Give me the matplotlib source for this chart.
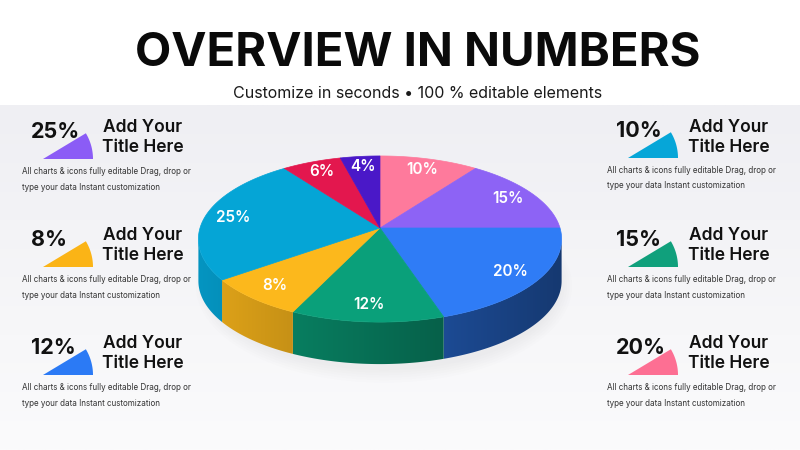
import numpy as np
import matplotlib
matplotlib.use("Agg")
import matplotlib.pyplot as plt
from matplotlib.patches import Polygon, Rectangle, Ellipse
from matplotlib.colors import to_rgb

# ---------------- data ----------------
pie_labels = ["10%", "15%", "20%", "12%", "8%", "25%", "6%", "4%"]
pie_values = [10, 15, 20, 12, 8, 25, 6, 4]
pie_colors = ["#fe7a9c", "#8d63f5", "#2f7cf6", "#0aa07a",
              "#fcb81c", "#05a5d6", "#e3174e", "#4a18c8"]

card_values = ["25%", "8%", "12%", "10%", "15%", "20%"]
card_colors = ["#8b5cf6", "#fbb416", "#2b7af5", "#06a6d8", "#10a07c", "#fd6f93"]
card_title = ["Add Your", "Title Here"]
card_desc = ["All charts & icons fully editable Drag, drop or",
             "type your data Instant customization"]

title = "OVERVIEW IN NUMBERS"
subtitle = "Customize in seconds \u2022 100 % editable elements"

FONT = "Inter"

# ---------------- figure ----------------
fig = plt.figure(figsize=(8, 4.5), dpi=100)
ax = fig.add_axes([0, 0, 1, 1])
ax.set_xlim(0, 800)
ax.set_ylim(450, 0)
ax.axis("off")

# background: white header, light grey panel fading downward
grad = np.linspace(0, 1, 200)[:, None]
c0 = np.array(to_rgb("#efeff3"))
c1 = np.array(to_rgb("#fbfbfc"))
img = c0[None, None, :] * (1 - grad[..., None]) + c1[None, None, :] * grad[..., None]
img = np.repeat(img, 2, axis=1)
ax.imshow(img, extent=[0, 800, 450, 105], aspect="auto", zorder=0)
ax.add_patch(Rectangle((0, 0), 800, 105, facecolor="white", edgecolor="none", zorder=1))

ax.text(418, 53, title, ha="center", va="center", fontsize=34, fontweight="bold",
        family=FONT, color="#0a0a0a", zorder=5)
ax.text(418, 93, subtitle, ha="center", va="center", fontsize=11.5,
        family=FONT, color="#1a1a1a", zorder=5)

# ---------------- 3D pie ----------------
CX, CY = 380.0, 228.0
A, B, C = 180.0, 81.6, 0.1327
D = 42.0


def proj(u, v, dy=0.0):
    w = 1.0 - C * v
    return CX + A * u / w, CY + B * v / w + dy


# very soft shadow under the pie
for k in range(6):
    ax.add_patch(Ellipse((CX + 4, CY + 58), 2 * A + 16 - k * 5, 2 * B + 30 - k * 5,
                         facecolor="#c4c4cc", edgecolor="none", alpha=0.035, zorder=2))

cum = np.concatenate([[0], np.cumsum(pie_values)]) / np.sum(pie_values) * 2 * np.pi
th_r = np.arccos(-C)            # right silhouette angle
th_l = 2 * np.pi - th_r         # left silhouette angle

# side walls (front part only), shaded horizontally
xs = np.linspace(CX - A - 10, CX + A + 10, 300)
fshade = np.clip(0.68 - 0.22 * (xs - CX) / A, 0, 1)
for i, col in enumerate(pie_colors):
    a0, a1 = max(cum[i], th_r), min(cum[i + 1], th_l)
    if a1 <= a0:
        continue
    th = np.linspace(a0, a1, 120)
    top = [proj(np.sin(t), -np.cos(t)) for t in th]
    bot = [(x, y + D) for (x, y) in top[::-1]]
    poly = Polygon(top + bot, closed=True, facecolor="none", edgecolor="none", zorder=3)
    ax.add_patch(poly)
    rgb = np.array(to_rgb(col))
    simg = (rgb[None, None, :] * fshade[None, :, None])
    simg = np.repeat(simg, 2, axis=0)
    im = ax.imshow(simg, extent=[xs[0], xs[-1], CY + B + D + 40, CY - B], aspect="auto",
                   zorder=3, interpolation="bilinear")
    im.set_clip_path(poly)

# top faces
for i, col in enumerate(pie_colors):
    th = np.linspace(cum[i], cum[i + 1], 120)
    pts = [proj(0, 0)] + [proj(np.sin(t), -np.cos(t)) for t in th]
    ax.add_patch(Polygon(pts, closed=True, facecolor=col, edgecolor=col,
                         linewidth=0.5, zorder=4))
    tm = 0.5 * (cum[i] + cum[i + 1])
    r = 0.84
    lx, ly = proj(r * np.sin(tm), -r * np.cos(tm))
    ax.text(lx, ly, pie_labels[i], ha="center", va="center", color="white",
            fontsize=11, fontweight="semibold", family=FONT, zorder=6)

# ---------------- side cards ----------------
apex_x = [43, 43, 43, 628, 628, 628]
apex_y = [159, 267, 375, 158, 267, 375]
title_cx = [143, 143, 143, 729, 729, 729]
desc_x = [22, 22, 22, 607, 607, 607]

ang = np.radians(np.linspace(0, 31, 40))
for k in range(6):
    ax0, ay0 = apex_x[k], apex_y[k]
    pts = [(ax0, ay0)] + [(ax0 + 50 * np.cos(a), ay0 - 50 * np.sin(a)) for a in ang]
    ax.add_patch(Polygon(pts, closed=True, facecolor=card_colors[k], edgecolor="none", zorder=4))
    ax.text(ax0 - 12, ay0 - 27, card_values[k], ha="left", va="center", fontsize=15.5,
            fontweight="bold", family=FONT, color="#111111", zorder=5)
    ax.text(title_cx[k], ay0 - 31, card_title[0], ha="center", va="center", fontsize=12.5,
            fontweight="semibold", family=FONT, color="#111111", zorder=5)
    ax.text(title_cx[k], ay0 - 11, card_title[1], ha="center", va="center", fontsize=12.5,
            fontweight="semibold", family=FONT, color="#111111", zorder=5)
    ax.text(desc_x[k], ay0 + 12.5, card_desc[0], ha="left", va="center", fontsize=5.8,
            family=FONT, color="#333333", zorder=5)
    ax.text(desc_x[k], ay0 + 28, card_desc[1], ha="left", va="center", fontsize=5.8,
            family=FONT, color="#333333", zorder=5)

fig.savefig("out.png", dpi=100)
